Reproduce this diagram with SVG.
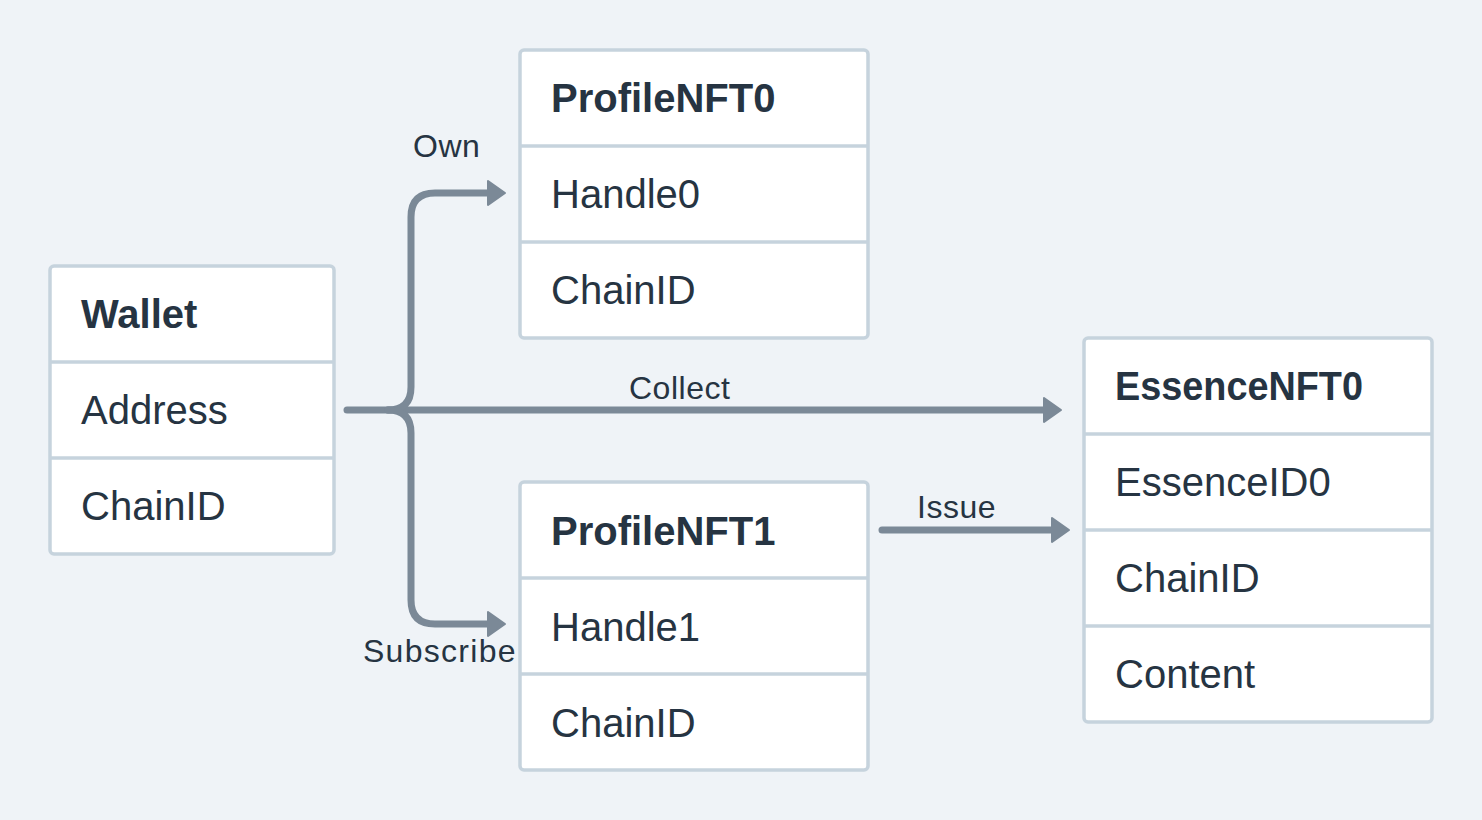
<svg xmlns="http://www.w3.org/2000/svg" width="1482" height="820" viewBox="0 0 1482 820">
<style>
.box{fill:#ffffff;stroke:#c6d3dd;stroke-width:3.5}
.div{stroke:#c6d3dd;stroke-width:3.5}
.t{font-family:"Liberation Sans",Arial,sans-serif;font-size:40px;fill:#263442}
.h{font-weight:bold}
.lbl{font-family:"Liberation Sans",Arial,sans-serif;font-size:32px;fill:#263442;letter-spacing:0.5px}
.con{fill:none;stroke:#7b8997;stroke-width:7;stroke-linecap:round;stroke-linejoin:round}
</style>
<defs>
<marker id="arr" markerUnits="userSpaceOnUse" viewBox="0 0 19 26" markerWidth="19" markerHeight="26" refX="9" refY="13" orient="auto" overflow="visible">
<path d="M1,1 L18,13 L1,25 Z" fill="#7b8997" stroke="#7b8997" stroke-width="2" stroke-linejoin="round"/>
</marker>
</defs>
<rect width="1482" height="820" fill="#eff3f7"/>
<g id="connectors">
<path class="con" d="M347 410 H1052" marker-end="url(#arr)"/>
<path class="con" d="M388 410 Q411 410 411 387 V217 Q411 193 435 193 H496" marker-end="url(#arr)"/>
<path class="con" d="M388 410 Q411 410 411 433 V600 Q411 624 435 624 H496" marker-end="url(#arr)"/>
<path class="con" d="M882 530 H1060" marker-end="url(#arr)"/>
<text class="lbl" x="413" y="157">Own</text>
<text class="lbl" x="629" y="399">Collect</text>
<text class="lbl" x="363" y="662" textLength="153" lengthAdjust="spacing">Subscribe</text>
<text class="lbl" x="917" y="518">Issue</text>
</g>
<g id="wallet">
<rect class="box" x="50" y="266" width="284" height="288" rx="4"/>
<line class="div" x1="50" y1="362" x2="334" y2="362"/>
<line class="div" x1="50" y1="458" x2="334" y2="458"/>
<text class="t h" x="81" y="328">Wallet</text>
<text class="t" x="81" y="424">Address</text>
<text class="t" x="81" y="520">ChainID</text>
</g>
<g id="profileNFT0">
<rect class="box" x="520" y="50" width="348" height="288" rx="4"/>
<line class="div" x1="520" y1="146" x2="868" y2="146"/>
<line class="div" x1="520" y1="242" x2="868" y2="242"/>
<text class="t h" x="551" y="112">ProfileNFT0</text>
<text class="t" x="551" y="208">Handle0</text>
<text class="t" x="551" y="304">ChainID</text>
</g>
<g id="profileNFT1">
<rect class="box" x="520" y="482" width="348" height="288" rx="4"/>
<line class="div" x1="520" y1="578" x2="868" y2="578"/>
<line class="div" x1="520" y1="674" x2="868" y2="674"/>
<text class="t h" x="551" y="545">ProfileNFT1</text>
<text class="t" x="551" y="641">Handle1</text>
<text class="t" x="551" y="737">ChainID</text>
</g>
<g id="essenceNFT0">
<rect class="box" x="1084" y="338" width="348" height="384" rx="4"/>
<line class="div" x1="1084" y1="434" x2="1432" y2="434"/>
<line class="div" x1="1084" y1="530" x2="1432" y2="530"/>
<line class="div" x1="1084" y1="626" x2="1432" y2="626"/>
<text class="t h" x="1115" y="400" textLength="248" lengthAdjust="spacingAndGlyphs">EssenceNFT0</text>
<text class="t" x="1115" y="496">EssenceID0</text>
<text class="t" x="1115" y="592">ChainID</text>
<text class="t" x="1115" y="688">Content</text>
</g>
</svg>
